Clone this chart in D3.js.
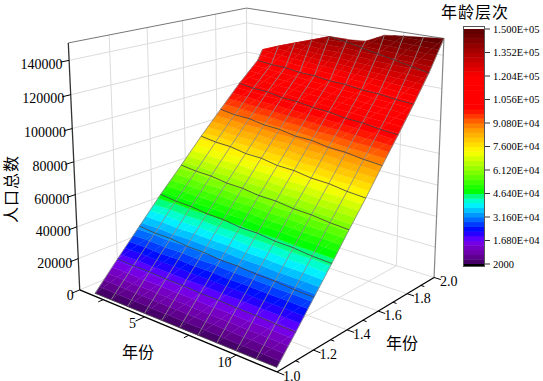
<!DOCTYPE html>
<html>
<head>
<meta charset="utf-8">
<script src="https://cdnjs.cloudflare.com/ajax/libs/d3/7.8.5/d3.min.js"></script>
<style>
  html, body { margin: 0; padding: 0; background: #fff; }
  svg { display: block; }
  text { font-family: "Liberation Serif", serif; fill: #000; }
  .cjk { font-family: "Noto Sans CJK SC", sans-serif; }
</style>
</head>
<body>
<script>
var width = 543;
var height = 381;

// data
var years = [2, 3, 4, 5, 6, 7, 8, 9, 10, 11, 12];
var levels = [1.0, 1.1, 1.2, 1.3, 1.4, 1.5, 1.6, 1.7, 1.8, 1.9, 2.0];
// the mesh rows run slanted in the y direction, more so at the low years
var levelSkew = [1.21, 1.189, 1.168, 1.147, 1.126, 1.105, 1.084, 1.063, 1.042, 1.021, 1.0];
var row0 = [2000, 2100, 2150, 2200, 2250, 2300, 2350, 2400, 2450, 2500, 2600];
var row1 = [17700, 17300, 17500, 17100, 17200, 16800, 17000, 16600, 16700, 16300, 16300];
var row2 = [33000, 32300, 32600, 31700, 31900, 31200, 31500, 30800, 31000, 30400, 30400];
var row3 = [48300, 47500, 47600, 46700, 46800, 45800, 46100, 45200, 45300, 44500, 44400];
var row4 = [62600, 62000, 62200, 61200, 61400, 60400, 60700, 59800, 59900, 59100, 58900];
var row5 = [77300, 76500, 76700, 75500, 75800, 74600, 74900, 73800, 74000, 73000, 72800];
var row6 = [91100, 90400, 90800, 89800, 90000, 88900, 89400, 88400, 88600, 87800, 87600];
var row7 = [104900, 104300, 104700, 103700, 104000, 103200, 103400, 102500, 102800, 102000, 101900];
var row8 = [117200, 116900, 117400, 116800, 117300, 116700, 117200, 116600, 117000, 116500, 116600];
var row9 = [123600, 128000, 132000, 135900, 139900, 138500, 137200, 136000, 134700, 133400, 132100];
var row10 = [123600, 128000, 132000, 135900, 139900, 140000, 140800, 146400, 147800, 148800, 150000];
var population = [row0, row1, row2, row3, row4, row5, row6, row7, row8, row9, row10];

var zTicks = [0, 20000, 40000, 60000, 80000, 100000, 120000, 140000];
var xMajor = [5, 10];
var xMinor = [2.5, 7.5];
var yMajor = [1.0, 1.2, 1.4, 1.6, 1.8, 2.0];
var yMinor = [1.1, 1.3, 1.5, 1.7, 1.9];
var legendTicks = [150000, 135200, 120400, 105600, 90800, 76000, 61200, 46400, 31600, 16800, 2000];
var legendLabels = ['1.500E+05', '1.352E+05', '1.204E+05', '1.056E+05', '9.080E+04', '7.600E+04', '6.120E+04', '4.640E+04', '3.160E+04', '1.680E+04', '2000'];
var stopValues = [2000, 8000, 14000, 17000, 23500, 31600, 40000, 44500, 48000, 60000, 73000, 88000, 100000, 120000, 150000];
var stopColors = ['#3c0058', '#6a00a0', '#7800d0', '#7000ff', '#0000ff', '#0080ff', '#00ffff', '#00ff90', '#00ff00', '#80ff00', '#ffff00', '#ff9000', '#ff0000', '#ff0000', '#5a0000'];

// scales
var sx = d3.scaleLinear().domain([1, 12]).range([0, 1]);
var sy = d3.scaleLinear().domain([1, 2]).range([0, 1]);
var sz = d3.scaleLinear().domain([0, 150000]).range([0, 1]);
var ramp = d3.scaleLinear().domain(stopValues).range(stopColors);
var bandSize = 2960;
function bandColor(k) {
  return ramp(2000 + (k + 0.5) * bandSize);
}
function gridY(i, j) {
  return Math.min(2, 1 + (levels[j] - 1) * levelSkew[i]);
}

// fit a camera matrix to where the box corners sit on the page
var corners = [
  [0, 0, 0, 79, 296], [1, 0, 0, 277, 367], [1, 1, 0, 433, 283], [0, 1, 0, 249, 213],
  [0, 0, 1, 69, 41], [1, 1, 1, 445, 37], [0, 1, 1, 245, 11]
];
function fitCamera(pts) {
  var rows = [];
  pts.forEach(function(p) {
    rows.push([p[0], p[1], p[2], 1, 0, 0, 0, 0, -p[3] * p[0], -p[3] * p[1], -p[3] * p[2], p[3]]);
    rows.push([0, 0, 0, 0, p[0], p[1], p[2], 1, -p[4] * p[0], -p[4] * p[1], -p[4] * p[2], p[4]]);
  });
  var n = 11;
  var m = d3.range(n).map(function(i) {
    return d3.range(n + 1).map(function(j) {
      return d3.sum(rows, function(r) { return r[i] * r[j]; });
    });
  });
  for (var i = 0; i < n; i++) {
    var piv = i;
    for (var k = i + 1; k < n; k++) if (Math.abs(m[k][i]) > Math.abs(m[piv][i])) piv = k;
    var t = m[i]; m[i] = m[piv]; m[piv] = t;
    for (k = 0; k < n; k++) {
      if (k == i) continue;
      var f = m[k][i] / m[i][i];
      for (var j = i; j <= n; j++) m[k][j] -= f * m[i][j];
    }
  }
  return d3.range(n).map(function(i) { return m[i][n] / m[i][i]; });
}
var cam = fitCamera(corners);

function project(x, y, z) {
  var X = sx(x), Y = sy(y), Z = sz(z);
  var w = cam[8] * X + cam[9] * Y + cam[10] * Z + 1;
  return [(cam[0] * X + cam[1] * Y + cam[2] * Z + cam[3]) / w,
          (cam[4] * X + cam[5] * Y + cam[6] * Z + cam[7]) / w];
}
var line3 = d3.line();

var svg = d3.select('body').append('svg')
  .attr('width', width)
  .attr('height', height);

var defs = svg.append('defs');
defs.append('filter').attr('id', 'soft')
  .append('feGaussianBlur').attr('stdDeviation', 0.5);

function seg(g, a, b, color, w) {
  g.append('path')
    .attr('d', line3([project(a[0], a[1], a[2]), project(b[0], b[1], b[2])]))
    .attr('fill', 'none')
    .attr('stroke', color)
    .attr('stroke-width', w);
}

// light grid on the floor and walls
var grid = svg.append('g');
var gridColor = '#dcdcdc';
xMajor.forEach(function(x) {
  seg(grid, [x, 1, 0], [x, 2, 0], gridColor, 1);
  seg(grid, [x, 2, 0], [x, 2, 150000], gridColor, 1);
});
yMajor.slice(1, 5).forEach(function(y) {
  seg(grid, [1, y, 0], [12, y, 0], gridColor, 1);
  seg(grid, [1, y, 0], [1, y, 150000], gridColor, 1);
});
zTicks.slice(1).forEach(function(z) {
  seg(grid, [1, 1, z], [1, 2, z], gridColor, 1);
  seg(grid, [1, 2, z], [12, 2, z], gridColor, 1);
});
seg(grid, [1, 2, 0], [1, 2, 150000], gridColor, 1);
seg(grid, [1, 1, 0], [1, 2, 0], gridColor, 1);
seg(grid, [1, 2, 0], [12, 2, 0], gridColor, 1);

// box edges
var frame = svg.append('g');
seg(frame, [1, 1, 150000], [1, 2, 150000], '#777', 1);
seg(frame, [1, 2, 150000], [12, 2, 150000], '#777', 1);
seg(frame, [12, 2, 150000], [12, 2, 0], '#888', 1.2);
seg(frame, [1, 1, 0], [1, 1, 150000], '#333', 1.3);
seg(frame, [1, 1, 0], [12, 1, 0], '#000', 1.3);
seg(frame, [12, 1, 0], [12, 2, 0], '#000', 1.3);

// axis ticks
xMajor.forEach(function(x) { seg(frame, [x, 1, 0], [x, 0.955, 0], '#000', 1); });
xMinor.forEach(function(x) { seg(frame, [x, 1, 0], [x, 0.975, 0], '#000', 1); });
yMajor.forEach(function(y) { seg(frame, [12, y, 0], [12.35, y, 0], '#000', 1); });
yMinor.forEach(function(y) { seg(frame, [12, y, 0], [12.18, y, 0], '#000', 1); });
zTicks.forEach(function(z) { seg(frame, [1, 1, z], [1, 0.96, z], '#000', 1); });

// clip a triangle of [x, y, z] vertices to one height band
function clipZ(poly, limit, keepAbove) {
  var out = [];
  poly.forEach(function(a, i) {
    var b = poly[(i + 1) % poly.length];
    var ina = keepAbove ? a[2] >= limit : a[2] <= limit;
    var inb = keepAbove ? b[2] >= limit : b[2] <= limit;
    if (ina) out.push(a);
    if (ina != inb) {
      var t = (limit - a[2]) / (b[2] - a[2]);
      out.push([a[0] + (b[0] - a[0]) * t, a[1] + (b[1] - a[1]) * t, limit]);
    }
  });
  return out;
}

// surface: every cell is cut along the colour bands
var pieces = [];
d3.range(levels.length - 1).forEach(function(j) {
  d3.range(years.length - 1).forEach(function(i) {
    var v00 = [years[i], gridY(i, j), population[j][i]];
    var v10 = [years[i + 1], gridY(i + 1, j), population[j][i + 1]];
    var v01 = [years[i], gridY(i, j + 1), population[j + 1][i]];
    var v11 = [years[i + 1], gridY(i + 1, j + 1), population[j + 1][i + 1]];
    [[v00, v10, v11], [v00, v11, v01]].forEach(function(tri) {
      d3.range(50).forEach(function(k) {
        var lo = 2000 + k * bandSize, hi = lo + bandSize;
        var poly = clipZ(clipZ(tri, lo, true), hi, false);
        if (poly.length > 2) pieces.push({ band: k, poly: poly });
      });
    });
  });
});
var surfaceLayer = svg.append('g').attr('filter', 'url(#soft)');
surfaceLayer.append('g').selectAll('path')
  .data(pieces)
  .enter().append('path')
  .attr('d', function(d) {
    return line3(d.poly.map(function(p) { return project(p[0], p[1], p[2]); })) + 'Z';
  })
  .attr('fill', function(d) { return bandColor(d.band); })
  .attr('stroke', function(d) { return bandColor(d.band); })
  .attr('stroke-width', 0.35);

// mesh lines over the surface
var mesh = surfaceLayer.append('g').attr('fill', 'none');
years.forEach(function(x, i) {
  mesh.append('path')
    .attr('d', line3(levels.map(function(y, j) { return project(x, gridY(i, j), population[j][i]); })))
    .attr('stroke', 'rgba(135,135,135,0.9)')
    .attr('stroke-width', 0.9);
});
levels.slice(0, 10).forEach(function(y, j) {
  // a row stops where it runs into the back edge
  var pts = [];
  years.forEach(function(x, i) {
    var inside = gridY(i, j) < 2;
    var nextInside = i < years.length - 1 && gridY(i + 1, j) < 2;
    if (inside || nextInside) pts.push(project(x, gridY(i, j), population[j][i]));
  });
  mesh.append('path')
    .attr('d', line3(pts))
    .attr('stroke', 'rgba(60,60,60,0.8)')
    .attr('stroke-width', 1);
});

// tick labels
var labels = svg.append('g').attr('font-size', 14);
zTicks.forEach(function(z) {
  var p = project(1, 0.96, z);
  labels.append('text')
    .attr('x', p[0] + 2)
    .attr('y', p[1] + 6.5)
    .attr('text-anchor', 'end')
    .text(z);
});
xMajor.forEach(function(x) {
  var p = project(x, 0.955, 0);
  labels.append('text')
    .attr('x', p[0] - 3)
    .attr('y', p[1] + 7)
    .attr('text-anchor', 'middle')
    .text(x);
});
yMajor.forEach(function(y) {
  var p = project(12, y, 0);
  labels.append('text')
    .attr('x', p[0] + 6)
    .attr('y', p[1] + 9)
    .text(d3.format('.1f')(y));
});

// axis titles
svg.append('text').attr('class', 'cjk').attr('x', 138).attr('y', 358)
  .attr('font-size', 16).attr('text-anchor', 'middle').text('年份');
svg.append('text').attr('class', 'cjk').attr('x', 402).attr('y', 349)
  .attr('font-size', 16).attr('text-anchor', 'middle').text('年份');
svg.append('text').attr('class', 'cjk')
  .attr('transform', 'translate(17,189) rotate(-90)')
  .attr('font-size', 16).attr('letter-spacing', 1).attr('text-anchor', 'middle').text('人口总数');

// colour legend
var legendY = d3.scaleLinear().domain([2000, 150000]).range([264, 29]);
var legend = svg.append('g');
var bands = d3.range(50);
legend.selectAll('rect.band')
  .data(bands)
  .enter().append('rect')
  .attr('class', 'band')
  .attr('x', 463)
  .attr('width', 22)
  .attr('y', function(d) { return legendY(2000 + (d + 1) * bandSize); })
  .attr('height', function(d) { return legendY(2000 + d * bandSize) - legendY(2000 + (d + 1) * bandSize) + 0.5; })
  .attr('fill', function(d) { return bandColor(d); });
legend.append('rect').attr('x', 463).attr('y', 264).attr('width', 22).attr('height', 3).attr('fill', '#000');
legend.append('rect').attr('x', 463.5).attr('y', 26.5).attr('width', 21).attr('height', 240)
  .attr('fill', 'none').attr('stroke', '#555').attr('stroke-width', 1);
legendTicks.forEach(function(v, i) {
  var y = legendY(v);
  legend.append('line').attr('x1', 485).attr('x2', 490).attr('y1', y).attr('y2', y)
    .attr('stroke', '#333').attr('stroke-width', 1);
  legend.append('text').attr('x', 493).attr('y', y + 3.5)
    .attr('font-size', 10.5).text(legendLabels[i]);
});
svg.append('text').attr('class', 'cjk').attr('x', 475).attr('y', 18)
  .attr('font-size', 16).attr('letter-spacing', 1).attr('text-anchor', 'middle').text('年龄层次');
</script>
</body>
</html>
